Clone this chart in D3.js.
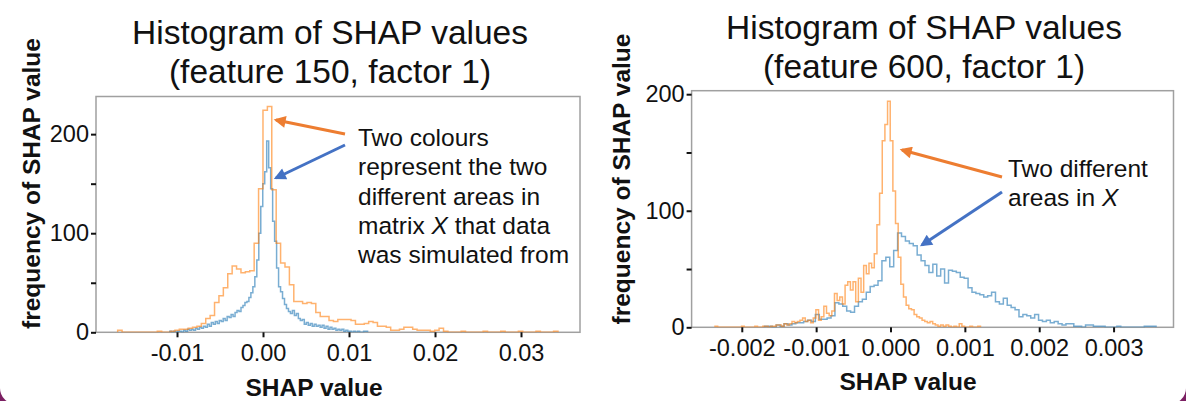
<!DOCTYPE html>
<html>
<head>
<meta charset="utf-8">
<script src="https://cdn.jsdelivr.net/npm/d3@7"></script>
<style>
  html, body { margin: 0; padding: 0; background: #ffffff; }
  svg text { font-family: "Liberation Sans", Arial, sans-serif; fill: #111; }
</style>
</head>
<body>
<div id="chart"></div>
<script>
// ---- data: bin counts ----
// feature 150 (left panel)
const leftOrangeStart = -0.0169, leftOrangeWidth = 0.000512;
const leftOrangeCounts = [
  2,0,0,0,0,0,0,0,0,1, 0,0,1,2,3,3,4,5,6,9,
  14,17,30,37,45,59,67,64,60,61, 62,90,145,224,228,144,90,70,66,48,
  31,31,29,30,29,20,16,16,12,11, 13,13,13,12,8,8,9,11,10,6,
  6,5,2,2,3,5,5,3,2,2, 2,1,2,4,1,0,0,0,1,0,
  0,0,0,1,0,0,0,1,0,0, 0,1,0,0,0,1,0,0,0,1
];
const leftBlueStart = -0.01084, leftBlueWidth = 0.00023;
const leftBlueCounts = [
  1,0,1,0,1,1,0,2,1,3, 2,3,2,4,3,5,4,6,5,8,
  6,10,8,11,9,12,11,14,12,16, 15,18,16,20,22,21,25,27,30,31,
  35,40,46,56,73,100,127,150,162,193, 166,145,112,92,65,46,41,34,28,24,
  21,19,22,17,19,14,12,13,8,10, 7,9,6,8,6,7,5,7,4,6,
  3,5,3,4,2,3,2,3,1,2, 1,1,0,1,0,1,0,0,1,1
];
const leftXTicks = [-0.01, 0, 0.01, 0.02, 0.03];
const leftXTickLabels = ["-0.01", "0.00", "0.01", "0.02", "0.03"];
const leftYTicks = [0, 50, 100, 150, 200];
const leftYTickLabels = ["0", "", "100", "", "200"];

// feature 600 (right panel)
const rightOrangeStart = -0.00236, rightOrangeWidth = 0.0000357;
const rightOrangeCounts = [
  1,0,0,0,0,0,0,0,0,0, 1,0,0,0,0,1,0,0,1,1,
  0,1,1,2,2,1,3,2,3,5, 4,5,6,8,5,6,4,8,15,6,
  9,18,12,10,14,29,23,26,20,36, 39,32,39,22,42,30,53,46,55,51,
  63,88,115,160,174,194,160,117,89,60, 37,26,19,16,15,11,9,8,6,5,
  4,5,3,2,1,2,1,2,1,0, 1,0,3,1,0,0,1,0,0,1
];
const rightBlueStart = -0.001695, rightBlueWidth = 0.00005266;
const rightBlueCounts = [
  1,1,0,2,1,3,2,3,4,4, 5,6,5,11,7,7,8,10,21,20,
  18,14,13,18,22,24,30,35,36,40, 57,60,52,66,81,78,74,72,70,62,
  57,53,47,54,44,50,38,49,48,47, 43,42,34,30,29,28,26,27,30,22,
  20,25,19,17,15,9,11,10,8,11, 6,5,6,4,5,3,2,3,3,1,
  1,0,2,2,1,1,1,0,0,0, 1,0,0,0,0,0,0,1,1,1
];
const rightXTicks = [-0.002, -0.001, 0, 0.001, 0.002, 0.003];
const rightXTickLabels = ["-0.002", "-0.001", "0.000", "0.001", "0.002", "0.003"];
const rightYTicks = [0, 50, 100, 150, 200];
const rightYTickLabels = ["0", "", "100", "", "200"];

const leftNote = [["Two colours"], ["represent the two"], ["different areas in"],
                  ["matrix ", "*X", " that data"], ["was simulated from"]];
const rightNote = [["Two different"], ["areas in ", "*X"]];

const orangeLine = "#ff7f0e", blueLine = "#1f77b4";
const orangeArrow = "#ed7d31", blueArrow = "#4472c4";

// turn bin start/width/counts into edges for a step outline
function toBins(start, width, counts) {
    return counts.map((c, i) => ({x0: start + i * width, x1: start + (i + 1) * width, count: c}));
}

class ShapHistogram {
    constructor(_svg, _config) {
        this.svg = _svg;
        this.config = _config;
        this.initVis();
    }

    initVis() {
        let vis = this;
        const c = vis.config;

        vis.width = c.right - c.left;
        vis.height = c.bottom - c.top;

        vis.xScale = d3.scaleLinear().domain(c.xDomain).range([0, vis.width]);
        vis.yScale = d3.scaleLinear().domain(c.yDomain).range([vis.height, 0]);

        vis.chart = vis.svg.append('g')
            .attr('transform', `translate(${c.left},${c.top})`);

        let clipId = 'clip-' + c.id;
        vis.svg.append('defs').append('clipPath').attr('id', clipId)
            .append('rect').attr('width', vis.width).attr('height', vis.height);

        // frame
        vis.chart.append('rect')
            .attr('width', vis.width)
            .attr('height', vis.height)
            .attr('fill', 'none')
            .attr('stroke', '#a0a0a0')
            .attr('stroke-width', 1.5);

        // histograms
        let line = d3.line().x(d => vis.xScale(d[0])).y(d => vis.yScale(d[1]));
        let plot = vis.chart.append('g').attr('clip-path', `url(#${clipId})`);
        c.series.forEach(s => {
            let pts = [[s.bins[0].x0, 0]];
            s.bins.forEach(b => { pts.push([b.x0, b.count]); pts.push([b.x1, b.count]); });
            pts.push([s.bins[s.bins.length - 1].x1, 0]);
            plot.append('path')
                .attr('d', line(pts))
                .attr('fill', 'none')
                .attr('stroke', s.color)
                .attr('stroke-opacity', 0.6)
                .attr('stroke-width', 1.5);
        });

        // axes
        let xAxis = d3.axisBottom(vis.xScale)
            .tickValues(c.xTicks)
            .tickFormat((d, i) => c.xTickLabels[i])
            .tickSize(5).tickSizeOuter(0).tickPadding(7);
        let yAxis = d3.axisLeft(vis.yScale)
            .tickValues(c.yTicks)
            .tickFormat((d, i) => c.yTickLabels[i])
            .tickSize(5).tickSizeOuter(0).tickPadding(2);

        let xg = vis.chart.append('g').attr('transform', `translate(0,${vis.height})`).call(xAxis);
        let yg = vis.chart.append('g').call(yAxis);
        [xg, yg].forEach(g => {
            g.select('.domain').remove();
            g.selectAll('.tick line').attr('stroke', '#111').attr('stroke-width', 2);
            g.selectAll('.tick text')
                .style('font-size', '23.5px')
                .style('font-family', '"Liberation Sans", Arial, sans-serif')
                .attr('fill', '#111');
        });

        // title
        let title = vis.svg.append('text')
            .attr('text-anchor', 'middle')
            .style('font-size', '33.5px');
        c.title.forEach((t, i) => {
            title.append('tspan')
                .attr('x', c.titleX)
                .attr('y', c.titleY + i * 39)
                .text(t);
        });

        // axis labels
        vis.svg.append('text')
            .attr('text-anchor', 'middle')
            .attr('x', c.xLabelX)
            .attr('y', c.xLabelY)
            .style('font-size', '24.5px')
            .style('font-weight', 'bold')
            .text('SHAP value');

        vis.svg.append('text')
            .attr('text-anchor', 'middle')
            .attr('transform', `translate(${c.yLabelX},${c.yLabelY}) rotate(-90)`)
            .style('font-size', '24.5px')
            .style('font-weight', 'bold')
            .text('frequency of SHAP value');

        // annotation text
        let note = vis.svg.append('text').style('font-size', '24.5px');
        c.note.forEach((parts, i) => {
            let row = note.append('tspan').attr('x', c.noteX).attr('y', c.noteY + i * 29.3);
            parts.forEach((p, j) => {
                let span = j === 0 ? row : note.append('tspan');
                if (p.startsWith('*')) {
                    span.style('font-style', 'italic').text(p.slice(1));
                } else {
                    span.text(p);
                }
            });
        });

        // arrows
        c.arrows.forEach(a => {
            let markerId = `head-${c.id}-${a.name}`;
            vis.svg.select('defs').append('marker')
                .attr('id', markerId)
                .attr('viewBox', '0 0 10 10')
                .attr('refX', 8).attr('refY', 5)
                .attr('markerUnits', 'userSpaceOnUse')
                .attr('markerWidth', 14).attr('markerHeight', 12)
                .attr('orient', 'auto')
                .append('path').attr('d', 'M0,0 L10,5 L0,10 Z').attr('fill', a.color);
            vis.svg.append('line')
                .attr('x1', a.from[0]).attr('y1', a.from[1])
                .attr('x2', a.to[0]).attr('y2', a.to[1])
                .attr('stroke', a.color)
                .attr('stroke-width', 3)
                .attr('marker-end', `url(#${markerId})`);
        });
    }
}

const svg = d3.select('#chart').append('svg')
    .attr('width', 1186)
    .attr('height', 401);

// slide background: purple shows only in the rounded bottom corners
svg.append('rect').attr('width', 1186).attr('height', 401).attr('fill', '#7b1f62');
svg.append('rect').attr('x', 0).attr('y', -30).attr('width', 1186).attr('height', 434)
    .attr('rx', 16).attr('fill', '#ffffff');

new ShapHistogram(svg, {
    id: 'f150',
    left: 96, right: 580, top: 96.5, bottom: 332.3,
    xDomain: [-0.01942, 0.03686], yDomain: [0, 238],
    xTicks: leftXTicks, xTickLabels: leftXTickLabels,
    yTicks: leftYTicks, yTickLabels: leftYTickLabels,
    series: [
        {color: blueLine, bins: toBins(leftBlueStart, leftBlueWidth, leftBlueCounts)},
        {color: orangeLine, bins: toBins(leftOrangeStart, leftOrangeWidth, leftOrangeCounts)}
    ],
    title: ['Histogram of SHAP values', '(feature 150, factor 1)'],
    titleX: 330, titleY: 44,
    xLabelX: 314, xLabelY: 396,
    yLabelX: 40, yLabelY: 183.5,
    note: leftNote, noteX: 358, noteY: 146,
    arrows: [
        {name: 'o', color: orangeArrow, from: [345, 134], to: [276, 120]},
        {name: 'b', color: blueArrow, from: [345, 145], to: [276, 178]}
    ]
});

new ShapHistogram(svg, {
    id: 'f600',
    left: 691.6, right: 1173.5, top: 90.7, bottom: 327.3,
    xDomain: [-0.002675, 0.003806], yDomain: [0, 203],
    xTicks: rightXTicks, xTickLabels: rightXTickLabels,
    yTicks: rightYTicks, yTickLabels: rightYTickLabels,
    series: [
        {color: blueLine, bins: toBins(rightBlueStart, rightBlueWidth, rightBlueCounts)},
        {color: orangeLine, bins: toBins(rightOrangeStart, rightOrangeWidth, rightOrangeCounts)}
    ],
    title: ['Histogram of SHAP values', '(feature 600, factor 1)'],
    titleX: 924, titleY: 39,
    xLabelX: 908, xLabelY: 390,
    yLabelX: 629.5, yLabelY: 179,
    note: rightNote, noteX: 1008, noteY: 177,
    arrows: [
        {name: 'o', color: orangeArrow, from: [1002, 177], to: [902, 150]},
        {name: 'b', color: blueArrow, from: [1002, 192], to: [922, 245]}
    ]
});
</script>
</body>
</html>
